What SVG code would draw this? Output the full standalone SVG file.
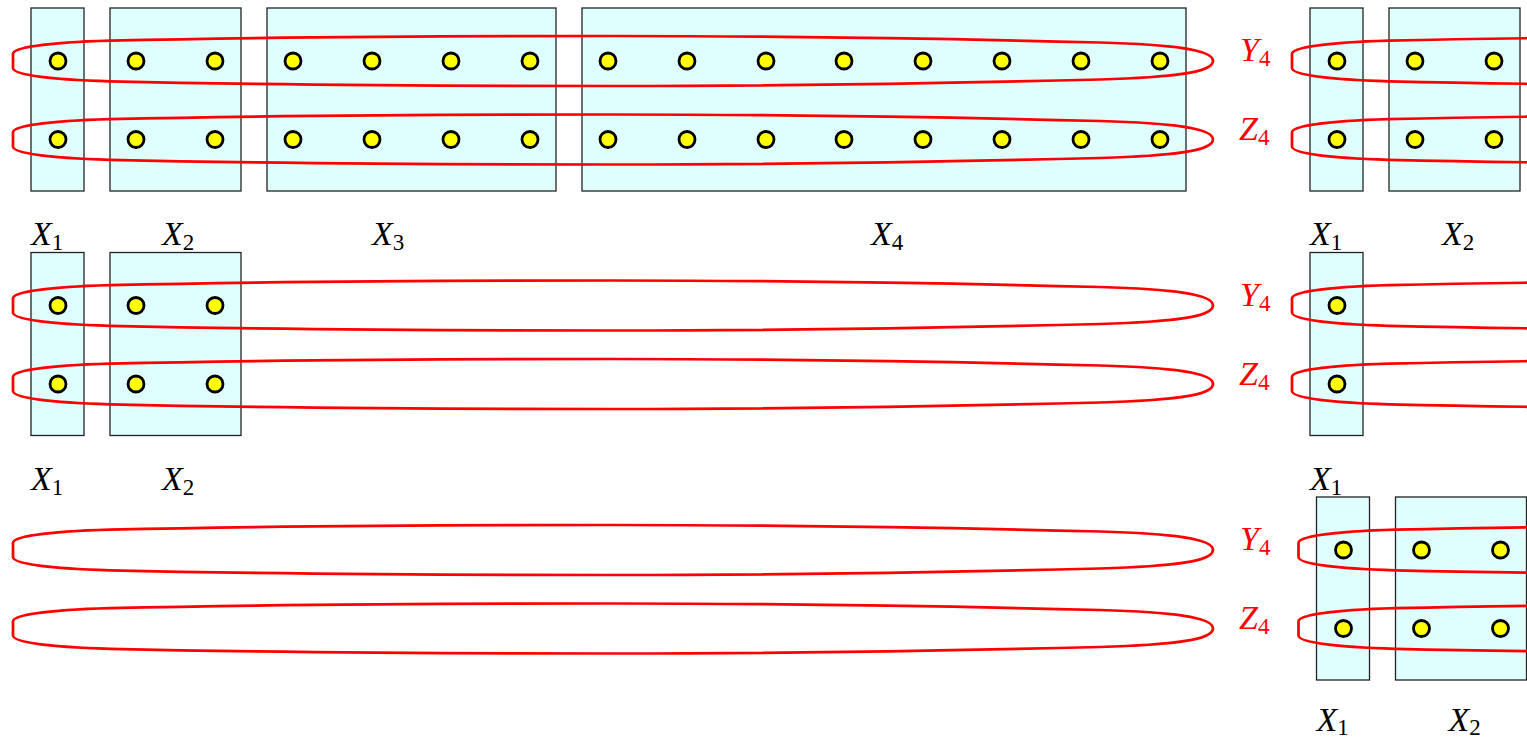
<svg xmlns="http://www.w3.org/2000/svg" width="1527" height="740" viewBox="0 0 1527 740">
<style>
.box{fill:#dfffff;stroke:#222;stroke-width:1.3}
.dot{fill:#ffff00;stroke:#000;stroke-width:2.8}
.loop{fill:none;stroke:#ff0000;stroke-width:2.7}
.lbl{font-family:"Liberation Serif","DejaVu Serif",serif;font-style:italic;font-size:34px;fill:#000}
.red{fill:#ff0000}
.sub{font-style:normal;font-size:23px}
</style>
<defs>
<path id="loop" d="M0,-7 C0,-14 37,-18.5 97,-20.3 C237,-23.5 437,-25 600,-25 C787,-25 987,-21 1087,-18.5 C1157,-16.5 1200,-12 1200,0 C1200,12 1157,16.5 1087,18.5 C987,21 787,25 600,25 C437,25 237,23.5 97,20.3 C37,18.5 0,14 0,7 Z"/>
<circle id="d" r="8"/>
</defs>
<rect width="1527" height="740" fill="#fff"/>

<!-- Row 1 left -->
<g id="row1-left">
  <g id="r1-X1"><rect class="box" x="31" y="8" width="53" height="183"/>
    <use href="#d" class="dot" x="58" y="61"/><use href="#d" class="dot" x="58" y="139.5"/></g>
  <g id="r1-X2"><rect class="box" x="110" y="8" width="131" height="183"/>
    <use href="#d" class="dot" x="136" y="61"/><use href="#d" class="dot" x="215" y="61"/>
    <use href="#d" class="dot" x="136" y="139.5"/><use href="#d" class="dot" x="215" y="139.5"/></g>
  <g id="r1-X3"><rect class="box" x="267" y="8" width="289" height="183"/>
    <use href="#d" class="dot" x="293" y="61"/><use href="#d" class="dot" x="372" y="61"/><use href="#d" class="dot" x="451" y="61"/><use href="#d" class="dot" x="530" y="61"/>
    <use href="#d" class="dot" x="293" y="139.5"/><use href="#d" class="dot" x="372" y="139.5"/><use href="#d" class="dot" x="451" y="139.5"/><use href="#d" class="dot" x="530" y="139.5"/></g>
  <g id="r1-X4"><rect class="box" x="582" y="8" width="604" height="183"/>
    <use href="#d" class="dot" x="608" y="61"/><use href="#d" class="dot" x="687" y="61"/><use href="#d" class="dot" x="766" y="61"/><use href="#d" class="dot" x="844" y="61"/>
    <use href="#d" class="dot" x="923" y="61"/><use href="#d" class="dot" x="1002" y="61"/><use href="#d" class="dot" x="1081" y="61"/><use href="#d" class="dot" x="1160" y="61"/>
    <use href="#d" class="dot" x="608" y="139.5"/><use href="#d" class="dot" x="687" y="139.5"/><use href="#d" class="dot" x="766" y="139.5"/><use href="#d" class="dot" x="844" y="139.5"/>
    <use href="#d" class="dot" x="923" y="139.5"/><use href="#d" class="dot" x="1002" y="139.5"/><use href="#d" class="dot" x="1081" y="139.5"/><use href="#d" class="dot" x="1160" y="139.5"/></g>
  <g id="r1-Y4"><use href="#loop" class="loop" x="13" y="61"/><text class="lbl red" x="1240" y="61">Y<tspan class="sub" dy="5">4</tspan></text></g>
  <g id="r1-Z4"><use href="#loop" class="loop" x="13" y="139.5"/><text class="lbl red" x="1239" y="140">Z<tspan class="sub" dy="5">4</tspan></text></g>
  <text class="lbl" x="31" y="245">X<tspan class="sub" dy="5">1</tspan></text>
  <text class="lbl" x="162" y="245">X<tspan class="sub" dy="5">2</tspan></text>
  <text class="lbl" x="372" y="245">X<tspan class="sub" dy="5">3</tspan></text>
  <text class="lbl" x="871" y="245">X<tspan class="sub" dy="5">4</tspan></text>
</g>

<!-- Row 1 right -->
<g id="row1-right" transform="translate(1279,0)">
  <g id="r1r-X1"><rect class="box" x="31" y="8" width="53" height="183"/>
    <use href="#d" class="dot" x="58" y="61"/><use href="#d" class="dot" x="58" y="139.5"/></g>
  <g id="r1r-X2"><rect class="box" x="110" y="8" width="131" height="183"/>
    <use href="#d" class="dot" x="136" y="61"/><use href="#d" class="dot" x="215" y="61"/>
    <use href="#d" class="dot" x="136" y="139.5"/><use href="#d" class="dot" x="215" y="139.5"/></g>
  <g id="r1r-Y4"><use href="#loop" class="loop" x="13" y="61"/></g>
  <g id="r1r-Z4"><use href="#loop" class="loop" x="13" y="139.5"/></g>
  <text class="lbl" x="31" y="245">X<tspan class="sub" dy="5">1</tspan></text>
  <text class="lbl" x="163" y="245">X<tspan class="sub" dy="5">2</tspan></text>
</g>

<!-- Row 2 left -->
<g id="row2-left" transform="translate(0,244.5)">
  <g id="r2-X1"><rect class="box" x="31" y="8" width="53" height="183"/>
    <use href="#d" class="dot" x="58" y="61"/><use href="#d" class="dot" x="58" y="139.5"/></g>
  <g id="r2-X2"><rect class="box" x="110" y="8" width="131" height="183"/>
    <use href="#d" class="dot" x="136" y="61"/><use href="#d" class="dot" x="215" y="61"/>
    <use href="#d" class="dot" x="136" y="139.5"/><use href="#d" class="dot" x="215" y="139.5"/></g>
  <g id="r2-Y4"><use href="#loop" class="loop" x="13" y="61"/><text class="lbl red" x="1240" y="61">Y<tspan class="sub" dy="5">4</tspan></text></g>
  <g id="r2-Z4"><use href="#loop" class="loop" x="13" y="139.5"/><text class="lbl red" x="1239" y="140">Z<tspan class="sub" dy="5">4</tspan></text></g>
  <text class="lbl" x="31" y="245">X<tspan class="sub" dy="5">1</tspan></text>
  <text class="lbl" x="162" y="245">X<tspan class="sub" dy="5">2</tspan></text>
</g>

<!-- Row 2 right -->
<g id="row2-right" transform="translate(1279,244.5)">
  <g id="r2r-X1"><rect class="box" x="31" y="8" width="53" height="183"/>
    <use href="#d" class="dot" x="58" y="61"/><use href="#d" class="dot" x="58" y="139.5"/></g>
  <g id="r2r-Y4"><use href="#loop" class="loop" x="13" y="61"/></g>
  <g id="r2r-Z4"><use href="#loop" class="loop" x="13" y="139.5"/></g>
  <text class="lbl" x="31" y="245">X<tspan class="sub" dy="5">1</tspan></text>
</g>

<!-- Row 3 left -->
<g id="row3-left" transform="translate(0,489)">
  <g id="r3-Y4"><use href="#loop" class="loop" x="13" y="61"/><text class="lbl red" x="1240" y="61">Y<tspan class="sub" dy="5">4</tspan></text></g>
  <g id="r3-Z4"><use href="#loop" class="loop" x="13" y="139.5"/><text class="lbl red" x="1239" y="140">Z<tspan class="sub" dy="5">4</tspan></text></g>
</g>

<!-- Row 3 right -->
<g id="row3-right" transform="translate(1285.5,489)">
  <g id="r3r-X1"><rect class="box" x="31" y="8" width="53" height="183"/>
    <use href="#d" class="dot" x="58" y="61"/><use href="#d" class="dot" x="58" y="139.5"/></g>
  <g id="r3r-X2"><rect class="box" x="110" y="8" width="131" height="183"/>
    <use href="#d" class="dot" x="136" y="61"/><use href="#d" class="dot" x="215" y="61"/>
    <use href="#d" class="dot" x="136" y="139.5"/><use href="#d" class="dot" x="215" y="139.5"/></g>
  <g id="r3r-Y4"><use href="#loop" class="loop" x="13" y="61"/></g>
  <g id="r3r-Z4"><use href="#loop" class="loop" x="13" y="139.5"/></g>
  <text class="lbl" x="31" y="242">X<tspan class="sub" dy="4">1</tspan></text>
  <text class="lbl" x="163" y="242">X<tspan class="sub" dy="4">2</tspan></text>
</g>
</svg>
